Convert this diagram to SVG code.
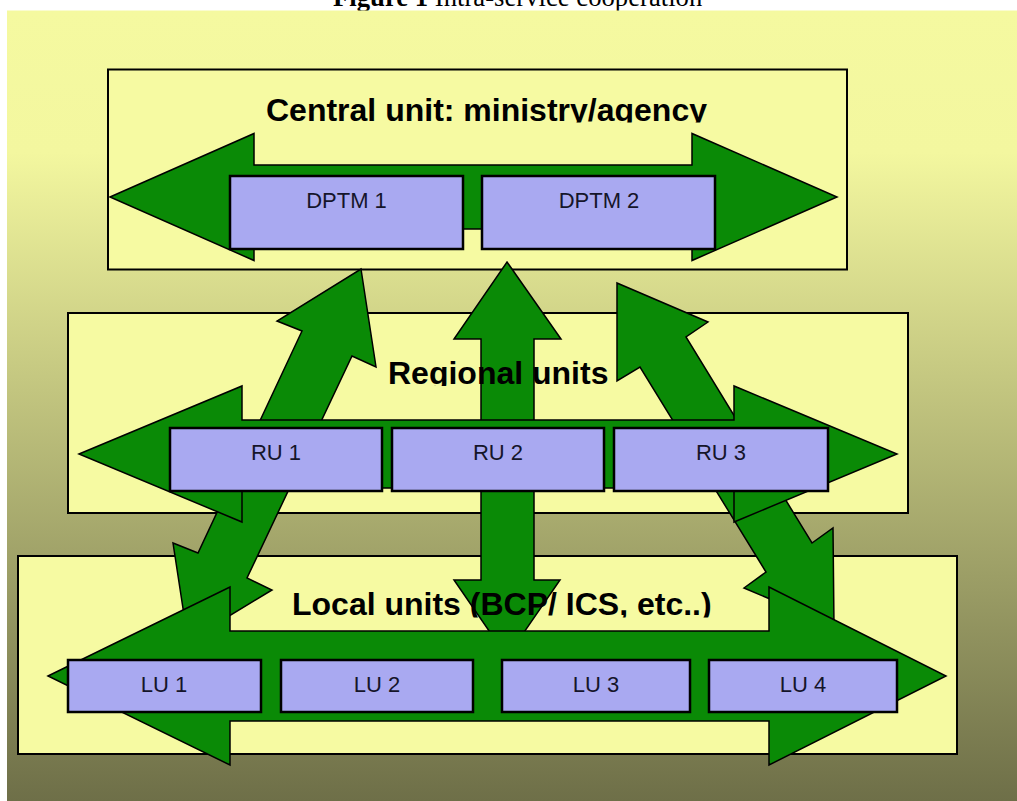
<svg xmlns="http://www.w3.org/2000/svg" width="1017" height="801" viewBox="0 0 1017 801">
  <defs>
    <linearGradient id="bg" x1="0" y1="10" x2="0" y2="801" gradientUnits="userSpaceOnUse">
      <stop offset="0" stop-color="#F5F9A0"/>
      <stop offset="0.18" stop-color="#F3F79F"/>
      <stop offset="1" stop-color="#6E6F48"/>
    </linearGradient>
    <clipPath id="clipC"><rect x="108" y="70" width="739" height="52.5"/></clipPath>
    <clipPath id="clipR"><rect x="68" y="313" width="840" height="73"/></clipPath>
    <clipPath id="clipL"><rect x="18" y="556" width="939" height="61.5"/></clipPath>
    <style>
      .unit-box { fill: #F6FAA2; stroke: #000; stroke-width: 2; }
      .sub { fill: #A9A9F1; stroke: #000; stroke-width: 2.5; }
      .arrow { fill: #0A8A06; stroke: #000; stroke-width: 1.5; stroke-linejoin: miter; }
      .title { font-family: "Liberation Sans", Arial, sans-serif; font-weight: bold; font-size: 32px; fill: #000; }
      .lbl { font-family: "Liberation Sans", Arial, sans-serif; font-size: 22px; fill: #15152a; text-anchor: middle; }
      .cap { font-family: "Liberation Serif", "Times New Roman", serif; font-size: 26.7px; fill: #000; }
    </style>
  </defs>

  <rect x="0" y="0" width="1017" height="801" fill="#ffffff"/>
  <text class="cap" x="333" y="5.5"><tspan font-weight="bold">Figure 1</tspan> Intra-service cooperation</text>
  <rect x="7" y="10.5" width="1010" height="791" fill="url(#bg)"/>

  <g id="central-unit"><rect class="unit-box" x="108" y="69.5" width="739" height="200"/></g>
  <g id="regional-units"><rect class="unit-box" x="68" y="313" width="840" height="200"/></g>
  <g id="local-units"><rect class="unit-box" x="18" y="556" width="939" height="198"/></g>

  <g id="connectors">
    <polygon id="conn-central-local" class="arrow" points="507,262 561,339 534,339 534,580 560,580 507,657 454,580 481,580 481,339 454,339"/>
    <polygon id="conn-left-diagonal" class="arrow" points="361,269 376,367 352,356 247,578 272,590 188,641 173,543 198,553 302,331 277,321"/>
    <polygon id="conn-right-diagonal" class="arrow" points="617,283 708,322 686,337 812,543 833,528 834,626 744,588 766,572 640,367 617,381"/>
    <polygon id="conn-central-h" class="arrow" points="110,197 254,133.5 254,165 692,165 692,133.5 837,197 692,260.5 692,229 254,229 254,260.5"/>
    <polygon id="conn-regional-h" class="arrow" points="79,454 242,386 242,420 734,420 734,386 897,454 734,522 734,488 242,488 242,522"/>
    <polygon id="conn-local-h" class="arrow" points="48,676 230,587 230,631 769,631 769,587 946,676 769,765 769,721 230,721 230,765"/>
  </g>

  <g id="dptm1"><rect class="sub" x="230" y="176" width="233" height="73"/><text class="lbl" x="346.5" y="208">DPTM 1</text></g>
  <g id="dptm2"><rect class="sub" x="482" y="176" width="233" height="73"/><text class="lbl" x="599" y="208">DPTM 2</text></g>

  <g id="ru1"><rect class="sub" x="170" y="428" width="212" height="63"/><text class="lbl" x="276" y="460">RU 1</text></g>
  <g id="ru2"><rect class="sub" x="392" y="428" width="212" height="63"/><text class="lbl" x="498" y="460">RU 2</text></g>
  <g id="ru3"><rect class="sub" x="614" y="428" width="214" height="63"/><text class="lbl" x="721" y="460">RU 3</text></g>

  <g id="lu1"><rect class="sub" x="68" y="660" width="193" height="52"/><text class="lbl" x="164" y="692">LU 1</text></g>
  <g id="lu2"><rect class="sub" x="281" y="660" width="192" height="52"/><text class="lbl" x="377" y="692">LU 2</text></g>
  <g id="lu3"><rect class="sub" x="502" y="660" width="188" height="52"/><text class="lbl" x="596" y="692">LU 3</text></g>
  <g id="lu4"><rect class="sub" x="709" y="660" width="188" height="52"/><text class="lbl" x="803" y="692">LU 4</text></g>

  <g id="central-title" clip-path="url(#clipC)"><text class="title" x="266" y="121">Central unit: ministry/agency</text></g>
  <g id="regional-title" clip-path="url(#clipR)"><text class="title" x="388" y="384">Regional units</text></g>
  <g id="local-title" clip-path="url(#clipL)"><text class="title" x="292" y="615">Local units (BCP/ ICS, etc..)</text></g>
</svg>
